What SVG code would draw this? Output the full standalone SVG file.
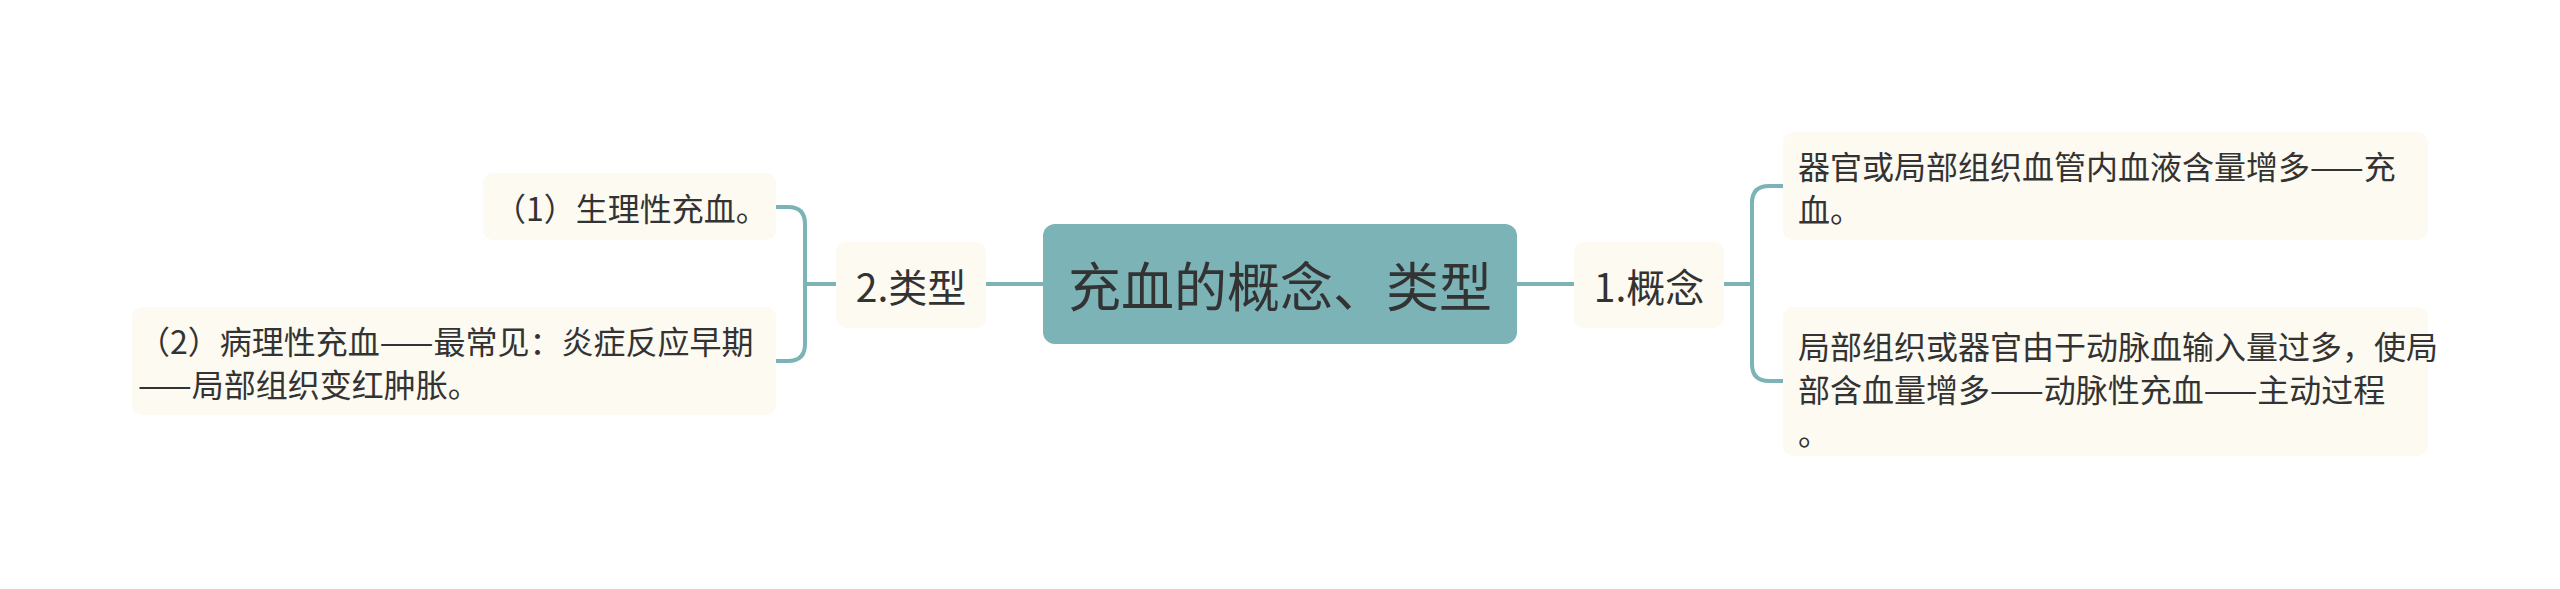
<svg xmlns="http://www.w3.org/2000/svg" width="2560" height="589" viewBox="0 0 2560 589">
<style>
.n{fill:#FCFAF1}
.c{fill:#7BB3B6}
.t{font-family:"Noto Sans CJK SC","Noto Sans",sans-serif;fill:#333333;dominant-baseline:central}
.s{font-size:32px}
.m{font-size:39px}
.b{font-size:53px}
.l{fill:none;stroke:#7BB3B6;stroke-width:4;stroke-linecap:round}
</style>
<rect width="2560" height="589" fill="#FFFFFF"/>
<g id="connectors">
<path class="l" d="M986,284 H1043"/>
<path class="l" d="M1517,284 H1574"/>
<path class="l" d="M805,284 H836"/>
<path class="l" d="M776,207 H788 Q805,207 805,224 V344 Q805,361 788,361 H776"/>
<path class="l" d="M1724,284 H1752"/>
<path class="l" d="M1783,186 H1769 Q1752,186 1752,203 V364 Q1752,381 1769,381 H1783"/>
</g>
<g id="center">
<rect class="c" x="1043" y="224" width="474" height="120" rx="12"/>
<text class="t b" x="1280" y="284" text-anchor="middle">充血的概念、类型</text>
</g>
<g id="n-types">
<rect class="n" x="836" y="242" width="150" height="86" rx="10"/>
<text class="t m" x="911" y="285" text-anchor="middle">2.类型</text>
</g>
<g id="n-concept">
<rect class="n" x="1574" y="242" width="150" height="86" rx="10"/>
<text class="t m" x="1649" y="285" text-anchor="middle">1.概念</text>
</g>
<g id="n-t1">
<rect class="n" x="483" y="173" width="293" height="67" rx="10"/>
<text class="t s" x="494" y="207">（1）生理性充血。</text>
</g>
<g id="n-t2">
<rect class="n" x="132" y="307" width="644" height="108" rx="10"/>
<text class="t s" x="138" y="340">（2）病理性充血——最常见：炎症反应早期</text>
<text class="t s" x="138" y="383">——局部组织变红肿胀。</text>
</g>
<g id="n-c1">
<rect class="n" x="1783" y="132" width="645" height="108" rx="10"/>
<text class="t s" x="1798" y="165">器官或局部组织血管内血液含量增多——充</text>
<text class="t s" x="1798" y="208">血。</text>
</g>
<g id="n-c2">
<rect class="n" x="1783" y="307" width="645" height="149" rx="10"/>
<text class="t s" x="1798" y="345">局部组织或器官由于动脉血输入量过多，使局</text>
<text class="t s" x="1798" y="388">部含血量增多——动脉性充血——主动过程</text>
<text class="t s" x="1798" y="431">。</text>
</g>
</svg>
